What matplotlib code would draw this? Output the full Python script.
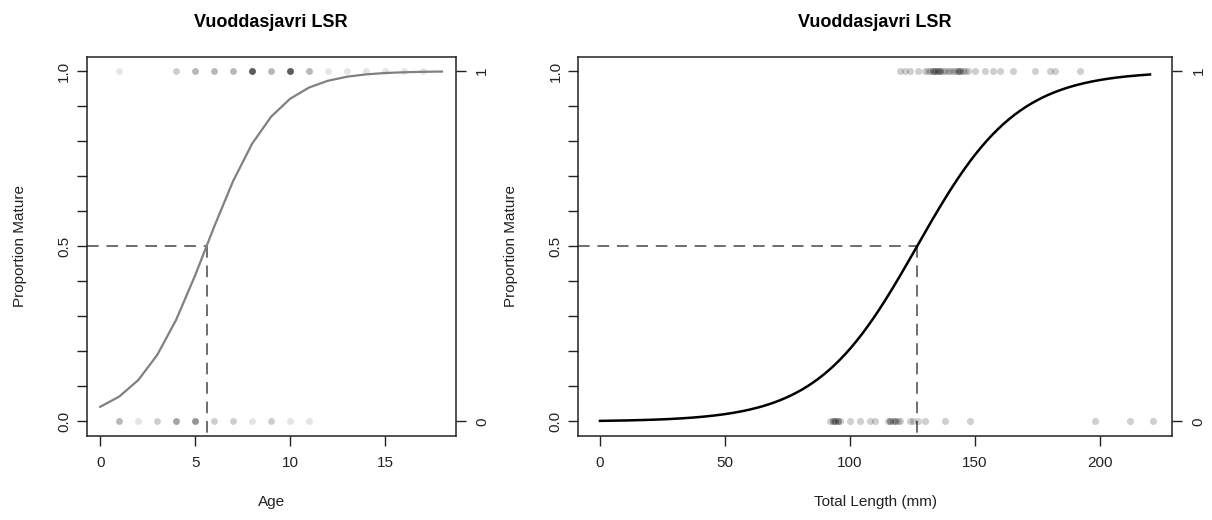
import numpy as np
import matplotlib
matplotlib.use("Agg")
import matplotlib.pyplot as plt

plt.rcParams['font.family'] = ['Liberation Sans', 'DejaVu Sans']

# ---- age panel data ----
age_levels = [1, 2, 3, 4, 5, 6, 7, 8, 9, 10, 11, 12, 13, 14, 15, 16, 17]
age_mature_n = [1, 0, 0, 2, 3, 3, 3, 9, 3, 9, 3, 1, 1, 1, 1, 1, 1]
age_immature_n = [3, 1, 2, 4, 5, 2, 2, 1, 2, 1, 1, 0, 0, 0, 0, 0, 0]
age_fit = (-3.13, 0.559)        # logistic intercept, slope
age_grid = np.arange(0, 19)

# ---- length panel data ----
len_mature = [120, 122, 124, 127, 130, 131, 132, 133, 133, 134, 134, 135, 135,
              136, 136, 137, 138, 139, 140, 141, 142, 143, 143, 144, 144, 145,
              146, 147, 150, 154, 157, 160, 165, 174, 180, 182, 192]
len_immature = [92, 93, 93, 94, 94, 95, 95, 96, 100, 104, 108, 110, 115, 116,
                116, 117, 118, 118, 119, 120, 124, 125, 127, 130, 138, 148,
                198, 212, 221]
len_fit = (-6.34, 0.05)
len_grid = np.linspace(0, 220, 200)

title = "Vuoddasjavri LSR"
ylab = "Proportion Mature"


def logistic(x, fit):
    return 1.0 / (1.0 + np.exp(-(fit[0] + fit[1] * x)))


def style_axes(ax, xlim, xticks):
    ax.set_xlim(*xlim)
    ax.set_ylim(-0.04, 1.04)
    ax.set_xticks(xticks)
    ax.set_xticklabels([str(t) for t in xticks])
    yt = np.round(np.arange(0, 1.01, 0.1), 1)
    ax.set_yticks(yt)
    ax.set_yticklabels([f"{t:.1f}" if t in (0.0, 0.5, 1.0) else "" for t in yt],
                       rotation=90, va='center')
    ax.tick_params(length=7, width=1, labelsize=11, pad=4, colors='#222222')
    ax.tick_params(axis='x', pad=8)
    for s in ax.spines.values():
        s.set_linewidth(1.1)
        s.set_color('#222222')
    ax.set_title(title, fontsize=13, fontweight='bold', pad=22)
    ax.set_ylabel(ylab, fontsize=11, labelpad=22, color='#222222')
    # 0/1 axis on the right
    rx = ax.twinx()
    rx.set_ylim(-0.04, 1.04)
    rx.set_yticks([0, 1])
    rx.set_yticklabels(["0", "1"], rotation=90, va='center')
    rx.tick_params(length=7, width=1, labelsize=11, pad=7, colors='#222222')
    for s in rx.spines.values():
        s.set_visible(False)


def midpoint_lines(ax, fit, xlim):
    x50 = -fit[0] / fit[1]
    ax.plot([xlim[0], x50], [0.5, 0.5], color='#6e6e6e', lw=1.4,
            dashes=(6, 4), zorder=2)
    ax.plot([x50, x50], [0.5, -0.04], color='#6e6e6e', lw=1.4,
            dashes=(6, 4), zorder=2)


fig = plt.figure(figsize=(12.12, 5.2), dpi=100)
ax1 = fig.add_axes([0.0714, 0.1625, 0.3045, 0.7275])
ax2 = fig.add_axes([0.4769, 0.1625, 0.4901, 0.7275])

# age panel
xl1 = (-0.72, 18.72)
for a, nm, ni in zip(age_levels, age_mature_n, age_immature_n):
    for _ in range(nm):
        ax1.scatter(a, 1, s=24, color='black', alpha=0.1, lw=0, zorder=3)
    for _ in range(ni):
        ax1.scatter(a, 0, s=24, color='black', alpha=0.1, lw=0, zorder=3)
ax1.plot(age_grid, logistic(age_grid, age_fit), color='#808080', lw=1.6, zorder=4)
midpoint_lines(ax1, age_fit, xl1)
style_axes(ax1, xl1, [0, 5, 10, 15])
ax1.set_xlabel("Age", fontsize=11, labelpad=18, color='#222222')

# length panel
xl2 = (-8.8, 228.8)
ax2.scatter(len_mature, np.ones(len(len_mature)), s=26, color='black',
            alpha=0.19, lw=0, zorder=3)
ax2.scatter(len_immature, np.zeros(len(len_immature)), s=26, color='black',
            alpha=0.19, lw=0, zorder=3)
ax2.plot(len_grid, logistic(len_grid, len_fit), color='black', lw=1.8, zorder=4)
midpoint_lines(ax2, len_fit, xl2)
style_axes(ax2, xl2, [0, 50, 100, 150, 200])
ax2.set_xlabel("Total Length (mm)", fontsize=11, labelpad=18, color='#222222')

fig.savefig("out.png", dpi=100)
